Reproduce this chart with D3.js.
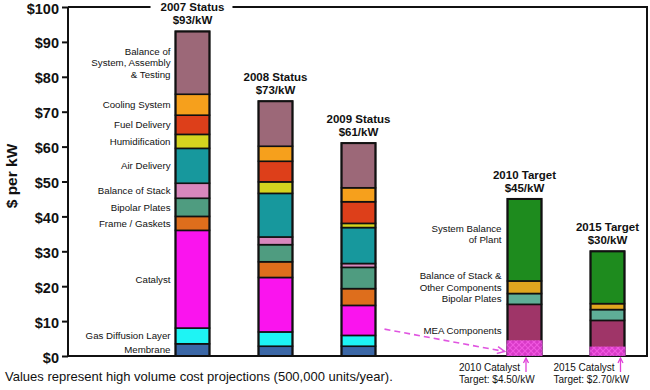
<!DOCTYPE html>
<html><head><meta charset="utf-8">
<script src="https://cdn.jsdelivr.net/npm/d3@7/dist/d3.min.js"></script>
<style>
body{margin:0;background:#fff}
svg{display:block}
text{font-family:"Liberation Sans",Arial,sans-serif;fill:#111}
</style>
</head><body>
<svg id="c" width="650" height="390"></svg>
<script>
// ---------------- DATA ----------------
const slots = ["2007","2008","2009","gap","2010","2015"];
const statusYears = ["2007","2008","2009"];
const statusTitles = ["2007 Status","2008 Status","2009 Status"];
const statusComponents = ["Membrane","Gas Diffusion Layer","Catalyst","Frame / Gaskets","Bipolar Plates",
  "Balance of Stack","Air Delivery","Humidification","Fuel Delivery","Cooling System",
  "Balance of System, Assembly & Testing"];
const statusLabelLines = [["Membrane"],["Gas Diffusion Layer"],["Catalyst"],["Frame / Gaskets"],["Bipolar Plates"],
  ["Balance of Stack"],["Air Delivery"],["Humidification"],["Fuel Delivery"],["Cooling System"],
  ["Balance of","System, Assembly","& Testing"]];
const statusColors = ["#3b67a6","#1ef4f4","#fa14ee","#de6e1c","#4f9c80","#d887bd","#17989d","#d5d41f","#dd3f1a","#f6a01c","#9c6878"];
const status2007 = [3.5, 4.5, 28.0, 4.0, 5.2, 4.3, 10.0, 4.0, 5.5, 6.0, 18.0];
const status2008 = [2.8, 4.1, 15.6, 4.5, 4.9, 2.2, 12.5, 3.3, 5.9, 4.3, 12.9];
const status2009 = [2.8, 3.1, 8.6, 4.8, 6.1, 1.1, 10.3, 1.2, 6.2, 4.0, 12.8];

const targetYears = ["2010","2015"];
const targetTitles = ["2010 Target","2015 Target"];
const targetComponents = ["MEA Components","Bipolar Plates","Balance of Stack & Other Components","System Balance of Plant"];
const targetLabelLines = [["MEA Components"],["Bipolar Plates"],["Balance of Stack &","Other Components"],["System Balance","of Plant"]];
const targetColors = ["#9f3568","#5fae97","#e0a61f","#1e8b1e"];
const target2010 = [14.8, 3.1, 3.6, 23.5];
const target2015 = [10.2, 3.1, 1.7, 15.0];

const catalystTargets = [4.5, 2.7];
const catalystTargetLabels = [["2010 Catalyst","Target: $4.50/kW"],["2015 Catalyst","Target: $2.70/kW"]];

const yTicks = [0,10,20,30,40,50,60,70,80,90,100];
const yTitle = "$ per kW";
const footnote = "Values represent high volume cost projections (500,000 units/year).";

// ---------------- LAYOUT ----------------
const L = 68, R = 647, T = 7, B = 356;
const bw = 34;
const svg = d3.select("#c");

const y = d3.scaleLinear().domain([0,100]).range([B, T]);
const x = d3.scalePoint().domain(slots).range([192.5, 607.5]);

const defs = svg.append("defs");
const pat = defs.append("pattern").attr("id","hatch").attr("patternUnits","userSpaceOnUse")
  .attr("width",6).attr("height",6);
pat.append("rect").attr("width",6).attr("height",6).attr("fill","#e23ad8");
pat.append("path").attr("d","M0,0 L6,6 M6,0 L0,6").attr("stroke","#ff5cf5").attr("stroke-width",1.2);

const frame = svg.append("g").attr("stroke","#111").attr("stroke-width",2).attr("fill","none");

// y axis
const yAxis = svg.append("g").attr("transform",`translate(${L},0)`)
  .call(d3.axisLeft(y).tickValues(yTicks).tickSize(6).tickPadding(3).tickFormat(d=>"$"+d));
yAxis.select(".domain").attr("stroke","#111").attr("stroke-width",2).attr("d",`M0,${T}V${B}`);
yAxis.selectAll(".tick line").attr("stroke","#111").attr("stroke-width",2);
yAxis.selectAll(".tick text").attr("font-family","'DejaVu Sans',Verdana,sans-serif")
  .attr("font-weight","bold").attr("font-size",14.5).attr("dy","0.42em").attr("fill","#111");

// x baseline
svg.append("line").attr("x1",L).attr("x2",R+1).attr("y1",y(0)).attr("y2",y(0))
  .attr("stroke","#111").attr("stroke-width",2);

svg.append("text").attr("transform",`translate(17,${176}) rotate(-90)`)
  .attr("text-anchor","middle").attr("font-weight","bold").attr("font-size",15.5).text(yTitle);

function drawBar(key, values, colors, title) {
  const cx = x(key);
  const ends = d3.cumsum(values);
  const total = ends[ends.length-1];
  const g = svg.append("g");
  values.forEach((v,i)=>{
    const y0 = i ? ends[i-1] : 0, y1 = ends[i];
    g.append("rect").attr("x",cx-bw/2).attr("y",y(y1)).attr("width",bw).attr("height",y(y0)-y(y1))
      .attr("fill",colors[i]).attr("stroke","#111").attr("stroke-width",1.6);
  });
  g.append("rect").attr("x",cx-bw/2).attr("y",y(total)).attr("width",bw).attr("height",y(0)-y(total))
    .attr("fill","none").attr("stroke","#111").attr("stroke-width",2);
  const t1 = svg.append("text").attr("x",cx).attr("y",y(total)-20).attr("text-anchor","middle")
    .attr("font-weight","bold").attr("font-size",11.5).text(title);
  svg.append("text").attr("x",cx).attr("y",y(total)-7).attr("text-anchor","middle")
    .attr("font-weight","bold").attr("font-size",11.5).text("$"+Math.round(total)+"/kW");
  return {ends, total, t1};
}

const statusData = [status2007, status2008, status2009];
const bars = statusData.map((vals,i)=>drawBar(statusYears[i], vals, statusColors, statusTitles[i]));
const targetData = [target2010, target2015];
const tbars = targetData.map((vals,i)=>drawBar(targetYears[i], vals, targetColors, targetTitles[i]));

// frame top line with gap around the 2007 title
const tw = bars[0].t1.node().getComputedTextLength();
const gx0 = x("2007") - tw/2 - 10, gx1 = x("2007") + tw/2 + 8;
frame.append("path").attr("d",`M${L},${T}H${gx0}M${gx1},${T}H${R}V${y(0)}`);

// labels on 2007 bar
const lh = 11.5;
const e07 = bars[0].ends;
statusLabelLines.forEach((lines,i)=>{
  const c = y(((i?e07[i-1]:0)+e07[i])/2);
  const t = svg.append("text").attr("text-anchor","end").attr("font-size",9.7);
  lines.forEach((ln,j)=>{
    t.append("tspan").attr("x",x("2007")-bw/2-5).attr("y",c+(j-(lines.length-1)/2)*lh).attr("dy","0.35em").text(ln);
  });
});
// labels on 2010 bar
const e10 = tbars[0].ends;
targetLabelLines.forEach((lines,i)=>{
  const c = y(((i?e10[i-1]:0)+e10[i])/2);
  const t = svg.append("text").attr("text-anchor","end").attr("font-size",9.7);
  lines.forEach((ln,j)=>{
    t.append("tspan").attr("x",x("2010")-bw/2-6).attr("y",c-(lines.length-1-j)*lh).attr("dy","0.35em").text(ln);
  });
});

// catalyst target hatch boxes + annotations
const arrowDx = [1.5, 13];
targetYears.forEach((k,i)=>{
  const cx = x(k);
  svg.append("rect").attr("x",cx-bw/2-1).attr("y",y(catalystTargets[i])).attr("width",bw+2)
    .attr("height",y(0)-y(catalystTargets[i])).attr("fill","url(#hatch)").attr("opacity",0.85);
  const ax = cx + arrowDx[i];
  svg.append("line").attr("x1",ax).attr("x2",ax).attr("y1",372).attr("y2",359)
    .attr("stroke","#e040d8").attr("stroke-width",1.3);
  svg.append("path").attr("d",`M${ax-2.5},${363}L${ax},${358}L${ax+2.5},${363}`)
    .attr("fill","none").attr("stroke","#e040d8").attr("stroke-width",1.3);
  catalystTargetLabels[i].forEach((ln,j)=>{
    svg.append("text").attr("x",ax-67).attr("y",371+j*12).attr("font-size",10).text(ln);
  });
});

// dashed magenta arrow from 2009 catalyst to 2010 target
const sx = x("2009")+bw/2+9, sy = y(7.7), ex = x("2010")-bw/2-3, ey = y(1.3);
svg.append("line").attr("x1",sx).attr("y1",sy).attr("x2",ex).attr("y2",ey)
  .attr("stroke","#e055e0").attr("stroke-width",1.6).attr("stroke-dasharray","6,4");
const ang = Math.atan2(ey-sy, ex-sx);
const ah = 8;
svg.append("path").attr("d",
  `M${ex-ah*Math.cos(ang-0.45)},${ey-ah*Math.sin(ang-0.45)}L${ex},${ey}L${ex-ah*Math.cos(ang+0.45)},${ey-ah*Math.sin(ang+0.45)}`)
  .attr("fill","none").attr("stroke","#e055e0").attr("stroke-width",1.6);

// footnote
svg.append("text").attr("x",5).attr("y",381).attr("font-size",13).text(footnote);
</script>
</body></html>
